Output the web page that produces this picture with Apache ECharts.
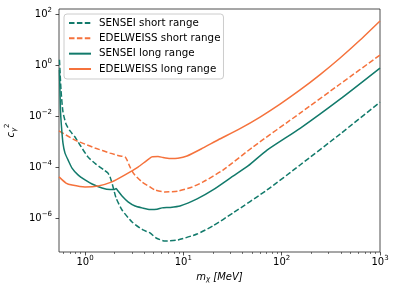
<!DOCTYPE html>
<html><head><meta charset="utf-8">
<script src="https://cdn.jsdelivr.net/npm/echarts@6/dist/echarts.min.js"></script>
<style>html,body{margin:0;padding:0;background:#fff}#c{width:399px;height:299px}</style>
</head><body><div id="c"></div>
<script>
// ---- data (mass in MeV, coupling c^2) ----
const seriesNames = ['SENSEI short range', 'EDELWEISS short range', 'SENSEI long range', 'EDELWEISS long range'];

const senseiShort = [
  [0.55,1.6],[0.570,0.105],[0.597,0.0144],[0.641,4.9e-3],[0.704,2.6e-3],[0.791,1.5e-3],
  [0.89,7.3e-4],[1.07,2.5e-4],[1.29,1.3e-4],[1.56,7.6e-5],[1.71,5.8e-5],[1.80,4.1e-5],
  [1.93,1.65e-5],[2.07,6.1e-6],[2.38,2.06e-6],[3.01,7.0e-7],[3.89,3.4e-7],[4.58,2.6e-7],
  [5.28,1.65e-7],[6.5,1.26e-7],[8.8,1.38e-7],[13.8,2.36e-7],[20,4.9e-7],[32,1.58e-6],
  [71,1.26e-5],[154,1.2e-4],[393,1.96e-3],[1000,0.035]
];
const edelweissShort = [
  [0.544,2.6e-3],[0.641,1.8e-3],[0.791,1.14e-3],[1.0,7.9e-4],[1.26,5.6e-4],[1.8,3.5e-4],
  [2.27,2.7e-4],[2.55,2.5e-4],[2.67,1.9e-4],[2.87,1.0e-4],[3.15,5.3e-5],[3.8,2.6e-5],
  [4.58,1.65e-5],[5.15,1.26e-5],[6.5,1.05e-5],[8.8,1.14e-5],[12.3,1.65e-5],[15.9,2.6e-5],
  [25.3,7.6e-5],[51,6.1e-4],[154,0.013],[393,0.18],[1000,2.46]
];
const senseiLong = [
  [0.55,0.64],[0.563,0.017],[0.577,3.7e-3],[0.597,8.7e-4],[0.626,3.5e-4],[0.672,1.9e-4],
  [0.738,9.1e-5],[0.849,4.9e-5],[1.0,3.1e-5],[1.18,2.15e-5],[1.49,1.5e-5],[1.80,1.3e-5],
  [1.97,1.3e-5],[2.07,1.43e-5],[2.17,1.14e-5],[2.38,7.3e-6],[2.74,4.3e-6],[3.23,2.95e-6],
  [3.8,2.5e-6],[4.58,2.15e-6],[5.4,2.2e-6],[6.07,2.5e-6],[7.33,2.6e-6],[9.25,2.95e-6],
  [13.8,5.6e-6],[20,1.26e-5],[32,4.4e-5],[45.5,1.1e-4],[71,4.6e-4],[154,3.3e-3],[393,0.046],[1000,0.76]
];
const edelweissLong = [
  [0.544,4.1e-5],[0.641,2.35e-5],[0.738,1.96e-5],[1.0,1.65e-5],[1.36,1.8e-5],[1.88,2.6e-5],
  [2.55,4.9e-5],[3.46,1.0e-4],[4.17,1.7e-4],[4.8,2.5e-4],[5.53,2.6e-4],[6.21,2.35e-4],
  [7.33,2.15e-4],[8.8,2.2e-4],[10.9,2.7e-4],[15.9,5.6e-4],[22.5,1.15e-3],[37.7,3.2e-3],
  [60.3,9.1e-3],[96.3,0.0293],[154,0.105],[246,0.42],[393,1.88],[628,9.5],[1000,53]
];

const xMajorTicks = [1, 10, 100, 1000];
const xMinorTicks = [0.6,0.7,0.8,0.9,2,3,4,5,6,7,8,9,20,30,40,50,60,70,80,90,200,300,400,500,600,700,800,900];
const yMajorTicks = [1e-6, 1e-4, 1e-2, 1, 100];

// ---- styling ----
const FONT = 'DejaVu Sans';
const TEAL = '#127a6b';
const ORANGE = '#f5723c';
const DASH = [5.5, 2.4];

function powLabel(v) {
  const e = Math.round(Math.log10(v));
  return '{b|10}{s|' + (e < 0 ? '\u2212' + (-e) : String(e)) + '}';
}
const labelRich = {
  b: {fontFamily: FONT, fontSize: 10, color: '#000', lineHeight: 14},
  s: {fontFamily: FONT, fontSize: 7, color: '#000', lineHeight: 6, verticalAlign: 'top'}
};

const chart = echarts.init(document.getElementById('c'), null, {renderer: 'canvas'});
const mk = (name, data, color, dashed) => ({
  name, type: 'line', data, symbol: 'none', showSymbol: false, smooth: 0.2,
  clip: true, lineStyle: {color, width: 1.5, type: dashed ? DASH : 'solid'},
  itemStyle: {color}
});

chart.setOption({
  animation: false,
  backgroundColor: '#fff',
  grid: {left: 59, top: 9, width: 321, height: 243, show: true, containLabel: false,
         outerBoundsMode: 'none',
         borderColor: '#222', borderWidth: 0.8, backgroundColor: 'transparent'},
  legend: {
    orient: 'vertical', left: 64, top: 14,
    padding: [3, 3, 4, 4],
    itemWidth: 22, itemHeight: 11, itemGap: 3.33,
    itemStyle: {opacity: 0},
    backgroundColor: 'rgba(255,255,255,0.85)', borderColor: '#cccccc', borderWidth: 1, borderRadius: 3,
    textStyle: {fontFamily: FONT, fontSize: 10.3, lineHeight: 12, color: '#000', padding: [0, 0, 0, 3]},
    data: seriesNames
  },
  xAxis: [{
    type: 'log', logBase: 10, min: 0.544, max: 1000,
    axisLine: {show: false},
    splitLine: {show: false},
    minorTick: {show: false},
    axisTick: {show: true, customValues: xMajorTicks, length: 3.5, lineStyle: {color: '#222', width: 0.8}},
    axisLabel: {customValues: xMajorTicks, formatter: powLabel, rich: labelRich, margin: 3},
    name: '{i|m}{s|\u03c7}{i| [MeV]}', nameLocation: 'middle', nameGap: 19,
    nameTextStyle: {rich: {
      i: {fontFamily: FONT, fontSize: 10, fontStyle: 'italic', color: '#000', lineHeight: 12},
      s: {fontFamily: FONT, fontSize: 7, fontStyle: 'italic', color: '#000', lineHeight: 6, verticalAlign: 'bottom'}
    }}
  }, {
    type: 'log', logBase: 10, min: 0.544, max: 1000, position: 'bottom',
    axisLine: {show: false}, splitLine: {show: false}, axisLabel: {show: false},
    axisTick: {show: true, customValues: xMinorTicks, length: 2, lineStyle: {color: '#222', width: 0.6}}
  }],
  yAxis: {
    type: 'log', logBase: 10, min: 4.65e-8, max: 157,
    axisLine: {show: false},
    splitLine: {show: false},
    minorTick: {show: false},
    axisTick: {show: true, customValues: yMajorTicks, length: 3.5, lineStyle: {color: '#222', width: 0.8}},
    axisLabel: {customValues: yMajorTicks, formatter: powLabel, rich: labelRich, margin: 7},
    name: '{i|c}{s|\u03b3}{p|2}', nameLocation: 'middle', nameGap: 38, nameRotate: 90,
    nameTextStyle: {rich: {
      i: {fontFamily: FONT, fontSize: 10, fontStyle: 'italic', color: '#000', lineHeight: 14},
      s: {fontFamily: FONT, fontSize: 7, fontStyle: 'italic', color: '#000', lineHeight: 6, verticalAlign: 'bottom'},
      p: {fontFamily: FONT, fontSize: 7, color: '#000', lineHeight: 6, verticalAlign: 'top'}
    }}
  },
  series: [
    mk(seriesNames[0], senseiShort, TEAL, true),
    mk(seriesNames[1], edelweissShort, ORANGE, true),
    mk(seriesNames[2], senseiLong, TEAL, false),
    mk(seriesNames[3], edelweissLong, ORANGE, false)
  ]
});
</script>
</body></html>
